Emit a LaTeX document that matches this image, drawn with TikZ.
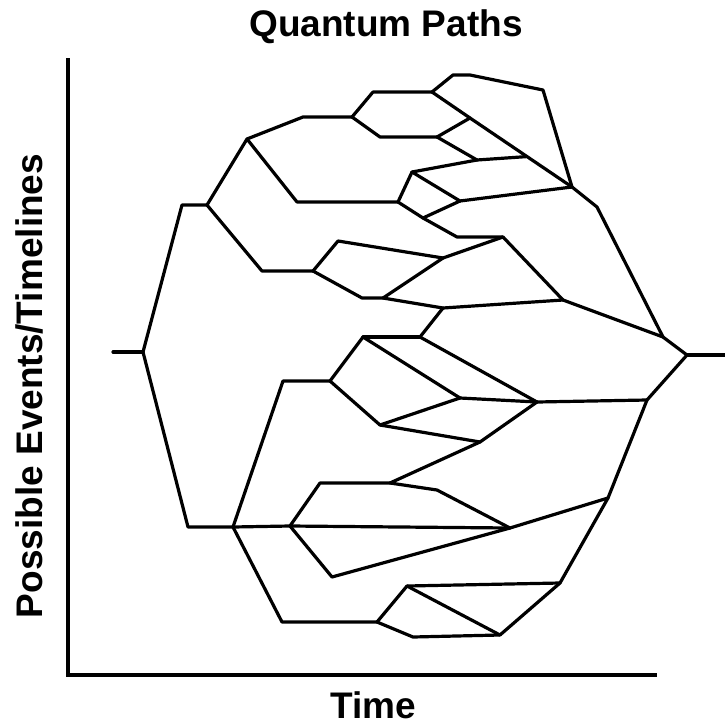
\documentclass[tikz,border=0pt]{standalone}
\usepackage{fontspec}
\setmainfont{Liberation Sans}
\usetikzlibrary{calc}
\begin{document}
\begin{tikzpicture}[x=1pt,y=-1pt,
  path/.style={line width=3.2pt,line join=round,line cap=round},
  axis/.style={line width=3.6pt,line cap=rect},
  lbl/.style={font=\fontsize{37}{40}\selectfont\bfseries,inner sep=0pt}]
\useasboundingbox (0,0) rectangle (725,726);
% axes
\coordinate (ax0) at (68,60);
\coordinate (ax1) at (68,675);
\coordinate (ax2) at (655,675);
\draw[axis] (ax0) -- (ax1) -- (ax2);
\node[lbl,anchor=base] (title) at (386,36) {Quantum Paths};
\node[lbl,anchor=base] (xlab) at (373,718) {Time};
\node[lbl,anchor=base,rotate=90] (ylab) at (42,386) {Possible Events/Timelines};
% coordinates
\coordinate (s0) at (113,352);
\coordinate (a0) at (143,352);
\coordinate (a1) at (182,205);
\coordinate (a2) at (207,205);
\coordinate (b1) at (247,139);
\coordinate (b1a) at (303,117);
\coordinate (b2) at (352,117);
\coordinate (b3) at (373,92);
\coordinate (b4) at (432,92);
\coordinate (b5) at (453,75);
\coordinate (b5a) at (470,75);
\coordinate (b6) at (543,90);
\coordinate (c1) at (380,137);
\coordinate (c2) at (437,137);
\coordinate (m1) at (470,118);
\coordinate (m2) at (477,160);
\coordinate (M) at (572,187);
\coordinate (m2e) at ($(m1)!0.559!(M)$);
\coordinate (M1) at (597,207);
\coordinate (F) at (663,337);
\coordinate (E) at (687,355);
\coordinate (E2) at (725,355);
\coordinate (d1) at (297,202);
\coordinate (d2) at (398,202);
\coordinate (d3) at (412,172);
\coordinate (d4) at (423,218);
\coordinate (m3) at (460,201);
\coordinate (d5) at (457,237);
\coordinate (m4) at (503,237);
\coordinate (m5) at (563,300);
\coordinate (e1) at (262,271);
\coordinate (e2) at (313,271);
\coordinate (e3) at (338,241);
\coordinate (m6) at (443,258);
\coordinate (e4) at (362,298);
\coordinate (e5) at (383,298);
\coordinate (m7) at (443,308);
\coordinate (g1) at (188,527);
\coordinate (g2) at (233,527);
\coordinate (h1) at (283,381);
\coordinate (h2) at (330,381);
\coordinate (h3) at (363,337);
\coordinate (h4) at (420,337);
\coordinate (m8) at (460,398);
\coordinate (m9) at (537,402);
\coordinate (h5) at (380,425);
\coordinate (m10) at (480,442);
\coordinate (G) at (647,400);
\coordinate (i1) at (290,526);
\coordinate (i2) at (320,483);
\coordinate (i3) at (390,483);
\coordinate (i4) at (437,490);
\coordinate (m11) at (510,528);
\coordinate (i5) at (332,577);
\coordinate (m12) at (608,498);
\coordinate (j1) at (282,622);
\coordinate (j2) at (377,622);
\coordinate (j3) at (407,586);
\coordinate (j4) at (413,637);
\coordinate (m13) at (500,635);
\coordinate (m14) at (560,583);
% upper half
\draw[path] (s0) -- (a0);
\draw[path] (a0) -- (a1) -- (a2);
\draw[path] (a2) -- (b1) -- (b1a) -- (b2);
\draw[path] (b2) -- (b3) -- (b4);
\draw[path] (b4) -- (b5) -- (b5a) -- (b6) -- (M);
\draw[path] (b4) -- (m1);
\draw[path] (b2) -- (c1) -- (c2);
\draw[path] (c2) -- (m1);
\draw[path] (c2) -- (m2);
\draw[path] (m1) -- (M);
\draw[path] (m2) -- (m2e);
\draw[path] (b1) -- (d1) -- (d2);
\draw[path] (d2) -- (d3);
\draw[path] (d2) -- (d4);
\draw[path] (d3) -- (m2);
\draw[path] (d3) -- (m3);
\draw[path] (d4) -- (m3);
\draw[path] (d4) -- (d5) -- (m4);
\draw[path] (m3) -- (M);
\draw[path] (M) -- (M1) -- (F);
\draw[path] (a2) -- (e1) -- (e2);
\draw[path] (e2) -- (e3) -- (m6);
\draw[path] (e2) -- (e4) -- (e5);
\draw[path] (e5) -- (m6);
\draw[path] (e5) -- (m7);
\draw[path] (m6) -- (m4);
\draw[path] (m4) -- (m5);
\draw[path] (h4) -- (m7);
\draw[path] (m7) -- (m5);
\draw[path] (m5) -- (F);
\draw[path] (F) -- (E);
\draw[path] (E) -- (E2);
% lower half
\draw[path] (a0) -- (g1) -- (g2);
\draw[path] (g2) -- (h1) -- (h2);
\draw[path] (h2) -- (h3);
\draw[path] (h2) -- (h5);
\draw[path] (h3) -- (h4);
\draw[path] (h3) -- (m8);
\draw[path] (h4) -- (m9);
\draw[path] (h5) -- (m8);
\draw[path] (h5) -- (m10);
\draw[path] (m8) -- (m9);
\draw[path] (m10) -- (m9);
\draw[path] (m9) -- (G);
\draw[path] (G) -- (E);
\draw[path] (g2) -- (i1);
\draw[path] (i1) -- (i2) -- (i3);
\draw[path] (i3) -- (m10);
\draw[path] (i3) -- (i4) -- (m11);
\draw[path] (i1) -- (m11);
\draw[path] (i1) -- (i5) -- (m11);
\draw[path] (m11) -- (m12);
\draw[path] (m12) -- (G);
\draw[path] (g2) -- (j1) -- (j2);
\draw[path] (j2) -- (j3);
\draw[path] (j2) -- (j4) -- (m13);
\draw[path] (j3) -- (m14);
\draw[path] (j3) -- (m13);
\draw[path] (m13) -- (m14);
\draw[path] (m14) -- (m12);
\end{tikzpicture}
\end{document}
